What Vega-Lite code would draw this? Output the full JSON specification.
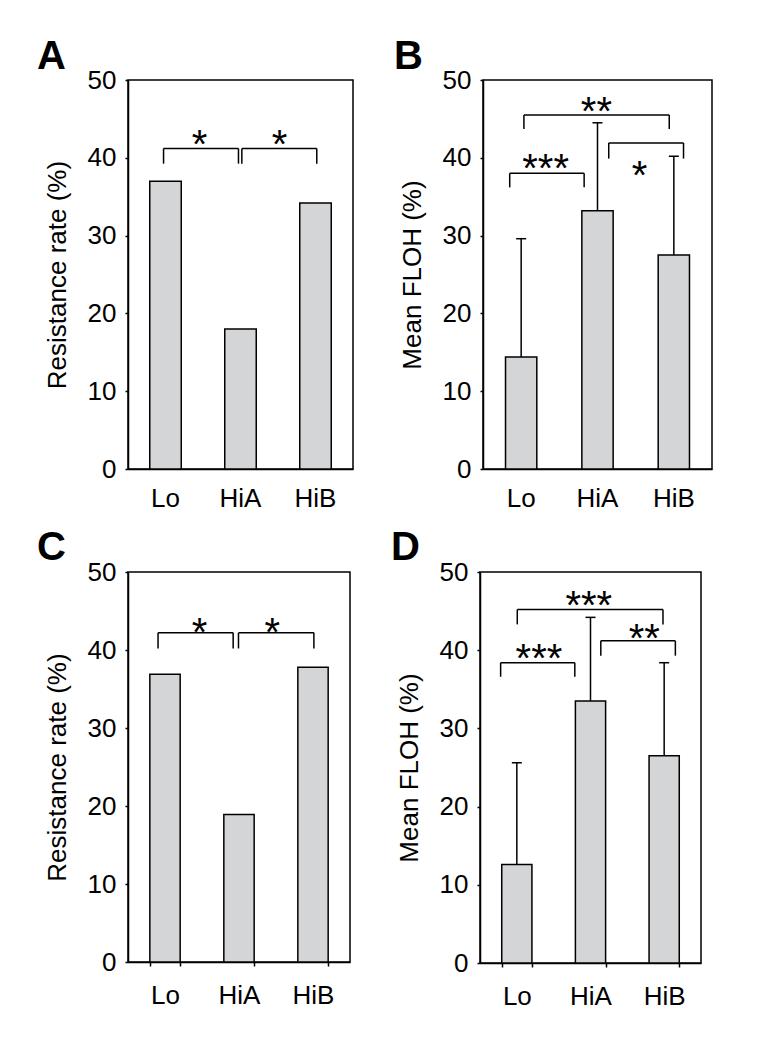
{
  "$schema": "https://vega.github.io/schema/vega-lite/v6.json",
  "padding": {"left": 36, "top": 36, "right": 10, "bottom": 10},
  "datasets": {
    "bars": [
      {"panel": "A", "group": "Lo", "value": 37.0},
      {"panel": "A", "group": "HiA", "value": 18.0},
      {"panel": "A", "group": "HiB", "value": 34.2},
      {"panel": "B", "group": "Lo", "value": 14.4, "err": 29.6},
      {"panel": "B", "group": "HiA", "value": 33.2, "err": 44.5},
      {"panel": "B", "group": "HiB", "value": 27.5, "err": 40.2},
      {"panel": "C", "group": "Lo", "value": 36.9},
      {"panel": "C", "group": "HiA", "value": 18.9},
      {"panel": "C", "group": "HiB", "value": 37.8},
      {"panel": "D", "group": "Lo", "value": 12.6, "err": 25.6},
      {"panel": "D", "group": "HiA", "value": 33.5, "err": 44.2},
      {"panel": "D", "group": "HiB", "value": 26.5, "err": 38.4}
    ],
    "brackets": [
      {"panel": "A", "xa": 0.474, "xb": 1.473, "top": 41.2, "bot": 39.25, "label": "*", "lx": 0.953, "ly": 42.9},
      {"panel": "A", "xa": 1.518, "xb": 2.517, "top": 41.2, "bot": 39.25, "label": "*", "lx": 2.019, "ly": 42.9},
      {"panel": "B", "xa": 0.35, "xb": 1.325, "top": 38.0, "bot": 36.2, "label": "***", "lx": 0.82, "ly": 39.8},
      {"panel": "B", "xa": 0.536, "xb": 2.44, "top": 45.5, "bot": 43.7, "label": "**", "lx": 1.486, "ly": 47.2},
      {"panel": "B", "xa": 1.647, "xb": 2.627, "top": 41.9, "bot": 39.9, "label": "*", "lx": 2.05, "ly": 38.9},
      {"panel": "C", "xa": 0.406, "xb": 1.421, "top": 42.2, "bot": 40.2, "label": "*", "lx": 0.965, "ly": 43.5},
      {"panel": "C", "xa": 1.493, "xb": 2.512, "top": 42.2, "bot": 40.2, "label": "*", "lx": 1.949, "ly": 43.5},
      {"panel": "D", "xa": 0.28, "xb": 1.287, "top": 38.4, "bot": 36.6, "label": "***", "lx": 0.8, "ly": 40.2},
      {"panel": "D", "xa": 0.506, "xb": 2.484, "top": 45.2, "bot": 43.3, "label": "***", "lx": 1.477, "ly": 46.9},
      {"panel": "D", "xa": 1.64, "xb": 2.652, "top": 41.2, "bot": 39.3, "label": "**", "lx": 2.23, "ly": 42.7}
    ]
  },
  "vconcat": [
    {
      "hconcat": [
        {
          "width": 225, "height": 389,
          "title": {"text": "A", "offset": -10, "dx": -7},
          "layer": [
            {
              "data": {"name": "bars"},
              "transform": [{"filter": "datum.panel === 'A'"}],
              "encoding": {"x": {"field": "group", "type": "nominal", "title": null, "sort": null, "scale": {"domain": ["Lo", "HiA", "HiB"], "paddingInner": 0.58, "paddingOuter": 0.29}, "axis": {"ticks": false}}},
              "layer": [
                {"mark": {"type": "bar", "fill": "#d4d5d7", "stroke": "black", "strokeWidth": 1.5},
                 "encoding": {"y": {"field": "value", "type": "quantitative", "title": "Resistance rate (%)", "scale": {"domain": [0, 50], "nice": false}}}}
              ]
            },
            {
              "data": {"name": "brackets"},
              "transform": [{"filter": "datum.panel === 'A'"}],
              "layer": [
                {"mark": {"type": "rule", "strokeWidth": 1.5, "color": "black"},
                 "encoding": {"x": {"field": "xa", "type": "quantitative", "scale": {"domain": [0, 3], "nice": false, "zero": false}, "axis": null}, "x2": {"field": "xb"}, "y": {"field": "top", "type": "quantitative", "title": "Resistance rate (%)", "scale": {"domain": [0, 50], "nice": false}}}},
                {"mark": {"type": "rule", "strokeWidth": 1.5, "color": "black"},
                 "encoding": {"x": {"field": "xa", "type": "quantitative", "scale": {"domain": [0, 3], "nice": false, "zero": false}, "axis": null}, "y": {"field": "top", "type": "quantitative", "title": "Resistance rate (%)", "scale": {"domain": [0, 50], "nice": false}}, "y2": {"field": "bot"}}},
                {"mark": {"type": "rule", "strokeWidth": 1.5, "color": "black"},
                 "encoding": {"x": {"field": "xb", "type": "quantitative", "scale": {"domain": [0, 3], "nice": false, "zero": false}, "axis": null}, "y": {"field": "top", "type": "quantitative", "title": "Resistance rate (%)", "scale": {"domain": [0, 50], "nice": false}}, "y2": {"field": "bot"}}},
                {"mark": {"type": "text", "fontSize": 40, "font": "Liberation Sans", "baseline": "alphabetic", "dy": 23, "color": "black"},
                 "encoding": {"x": {"field": "lx", "type": "quantitative", "scale": {"domain": [0, 3], "nice": false, "zero": false}, "axis": null}, "y": {"field": "ly", "type": "quantitative", "title": "Resistance rate (%)", "scale": {"domain": [0, 50], "nice": false}}, "text": {"field": "label"}}}
              ]
            }
          ],
          "resolve": {"scale": {"x": "independent"}, "axis": {"x": "independent"}}
        },
        {
          "width": 229, "height": 389,
          "title": {"text": "B", "offset": -10, "dx": -5},
          "layer": [
            {
              "data": {"name": "bars"},
              "transform": [{"filter": "datum.panel === 'B'"}],
              "encoding": {"x": {"field": "group", "type": "nominal", "title": null, "sort": null, "scale": {"domain": ["Lo", "HiA", "HiB"], "paddingInner": 0.59, "paddingOuter": 0.295}, "axis": {"ticks": false}}},
              "layer": [
                {"mark": {"type": "rule", "strokeWidth": 1.5, "color": "black"},
                 "encoding": {"y": {"field": "value", "type": "quantitative", "title": "Mean FLOH (%)", "scale": {"domain": [0, 50], "nice": false}}, "y2": {"field": "err"}}},
                {"mark": {"type": "tick", "size": 10, "thickness": 1.5, "color": "black", "opacity": 1},
                 "encoding": {"y": {"field": "err", "type": "quantitative", "title": "Mean FLOH (%)", "scale": {"domain": [0, 50], "nice": false}}}},
                {"mark": {"type": "bar", "fill": "#d4d5d7", "stroke": "black", "strokeWidth": 1.5},
                 "encoding": {"y": {"field": "value", "type": "quantitative", "title": "Mean FLOH (%)", "scale": {"domain": [0, 50], "nice": false}}}}
              ]
            },
            {
              "data": {"name": "brackets"},
              "transform": [{"filter": "datum.panel === 'B'"}],
              "layer": [
                {"mark": {"type": "rule", "strokeWidth": 1.5, "color": "black"},
                 "encoding": {"x": {"field": "xa", "type": "quantitative", "scale": {"domain": [0, 3], "nice": false, "zero": false}, "axis": null}, "x2": {"field": "xb"}, "y": {"field": "top", "type": "quantitative", "title": "Mean FLOH (%)", "scale": {"domain": [0, 50], "nice": false}}}},
                {"mark": {"type": "rule", "strokeWidth": 1.5, "color": "black"},
                 "encoding": {"x": {"field": "xa", "type": "quantitative", "scale": {"domain": [0, 3], "nice": false, "zero": false}, "axis": null}, "y": {"field": "top", "type": "quantitative", "title": "Mean FLOH (%)", "scale": {"domain": [0, 50], "nice": false}}, "y2": {"field": "bot"}}},
                {"mark": {"type": "rule", "strokeWidth": 1.5, "color": "black"},
                 "encoding": {"x": {"field": "xb", "type": "quantitative", "scale": {"domain": [0, 3], "nice": false, "zero": false}, "axis": null}, "y": {"field": "top", "type": "quantitative", "title": "Mean FLOH (%)", "scale": {"domain": [0, 50], "nice": false}}, "y2": {"field": "bot"}}},
                {"mark": {"type": "text", "fontSize": 40, "font": "Liberation Sans", "baseline": "alphabetic", "dy": 23, "color": "black"},
                 "encoding": {"x": {"field": "lx", "type": "quantitative", "scale": {"domain": [0, 3], "nice": false, "zero": false}, "axis": null}, "y": {"field": "ly", "type": "quantitative", "title": "Mean FLOH (%)", "scale": {"domain": [0, 50], "nice": false}}, "text": {"field": "label"}}}
              ]
            }
          ],
          "resolve": {"scale": {"x": "independent"}, "axis": {"x": "independent"}}
        }
      ]
    },
    {
      "hconcat": [
        {
          "width": 222, "height": 390,
          "title": {"text": "C", "offset": -9, "dx": -7},
          "layer": [
            {
              "data": {"name": "bars"},
              "transform": [{"filter": "datum.panel === 'C'"}],
              "encoding": {"x": {"field": "group", "type": "nominal", "title": null, "sort": null, "scale": {"domain": ["Lo", "HiA", "HiB"], "paddingInner": 0.59, "paddingOuter": 0.295}, "axis": {"ticks": true, "tickBand": "extent", "tickSize": 4}}},
              "layer": [
                {"mark": {"type": "bar", "fill": "#d4d5d7", "stroke": "black", "strokeWidth": 1.5},
                 "encoding": {"y": {"field": "value", "type": "quantitative", "title": "Resistance rate (%)", "scale": {"domain": [0, 50], "nice": false}}}}
              ]
            },
            {
              "data": {"name": "brackets"},
              "transform": [{"filter": "datum.panel === 'C'"}],
              "layer": [
                {"mark": {"type": "rule", "strokeWidth": 1.5, "color": "black"},
                 "encoding": {"x": {"field": "xa", "type": "quantitative", "scale": {"domain": [0, 3], "nice": false, "zero": false}, "axis": null}, "x2": {"field": "xb"}, "y": {"field": "top", "type": "quantitative", "title": "Resistance rate (%)", "scale": {"domain": [0, 50], "nice": false}}}},
                {"mark": {"type": "rule", "strokeWidth": 1.5, "color": "black"},
                 "encoding": {"x": {"field": "xa", "type": "quantitative", "scale": {"domain": [0, 3], "nice": false, "zero": false}, "axis": null}, "y": {"field": "top", "type": "quantitative", "title": "Resistance rate (%)", "scale": {"domain": [0, 50], "nice": false}}, "y2": {"field": "bot"}}},
                {"mark": {"type": "rule", "strokeWidth": 1.5, "color": "black"},
                 "encoding": {"x": {"field": "xb", "type": "quantitative", "scale": {"domain": [0, 3], "nice": false, "zero": false}, "axis": null}, "y": {"field": "top", "type": "quantitative", "title": "Resistance rate (%)", "scale": {"domain": [0, 50], "nice": false}}, "y2": {"field": "bot"}}},
                {"mark": {"type": "text", "fontSize": 40, "font": "Liberation Sans", "baseline": "alphabetic", "dy": 23, "color": "black"},
                 "encoding": {"x": {"field": "lx", "type": "quantitative", "scale": {"domain": [0, 3], "nice": false, "zero": false}, "axis": null}, "y": {"field": "ly", "type": "quantitative", "title": "Resistance rate (%)", "scale": {"domain": [0, 50], "nice": false}}, "text": {"field": "label"}}}
              ]
            }
          ],
          "resolve": {"scale": {"x": "independent"}, "axis": {"x": "independent"}}
        },
        {
          "width": 221, "height": 391,
          "title": {"text": "D", "offset": -9, "dx": -5},
          "layer": [
            {
              "data": {"name": "bars"},
              "transform": [{"filter": "datum.panel === 'D'"}],
              "encoding": {"x": {"field": "group", "type": "nominal", "title": null, "sort": null, "scale": {"domain": ["Lo", "HiA", "HiB"], "paddingInner": 0.59, "paddingOuter": 0.295}, "axis": {"ticks": true, "tickBand": "extent", "tickSize": 4}}},
              "layer": [
                {"mark": {"type": "rule", "strokeWidth": 1.5, "color": "black"},
                 "encoding": {"y": {"field": "value", "type": "quantitative", "title": "Mean FLOH (%)", "scale": {"domain": [0, 50], "nice": false}}, "y2": {"field": "err"}}},
                {"mark": {"type": "tick", "size": 10, "thickness": 1.5, "color": "black", "opacity": 1},
                 "encoding": {"y": {"field": "err", "type": "quantitative", "title": "Mean FLOH (%)", "scale": {"domain": [0, 50], "nice": false}}}},
                {"mark": {"type": "bar", "fill": "#d4d5d7", "stroke": "black", "strokeWidth": 1.5},
                 "encoding": {"y": {"field": "value", "type": "quantitative", "title": "Mean FLOH (%)", "scale": {"domain": [0, 50], "nice": false}}}}
              ]
            },
            {
              "data": {"name": "brackets"},
              "transform": [{"filter": "datum.panel === 'D'"}],
              "layer": [
                {"mark": {"type": "rule", "strokeWidth": 1.5, "color": "black"},
                 "encoding": {"x": {"field": "xa", "type": "quantitative", "scale": {"domain": [0, 3], "nice": false, "zero": false}, "axis": null}, "x2": {"field": "xb"}, "y": {"field": "top", "type": "quantitative", "title": "Mean FLOH (%)", "scale": {"domain": [0, 50], "nice": false}}}},
                {"mark": {"type": "rule", "strokeWidth": 1.5, "color": "black"},
                 "encoding": {"x": {"field": "xa", "type": "quantitative", "scale": {"domain": [0, 3], "nice": false, "zero": false}, "axis": null}, "y": {"field": "top", "type": "quantitative", "title": "Mean FLOH (%)", "scale": {"domain": [0, 50], "nice": false}}, "y2": {"field": "bot"}}},
                {"mark": {"type": "rule", "strokeWidth": 1.5, "color": "black"},
                 "encoding": {"x": {"field": "xb", "type": "quantitative", "scale": {"domain": [0, 3], "nice": false, "zero": false}, "axis": null}, "y": {"field": "top", "type": "quantitative", "title": "Mean FLOH (%)", "scale": {"domain": [0, 50], "nice": false}}, "y2": {"field": "bot"}}},
                {"mark": {"type": "text", "fontSize": 40, "font": "Liberation Sans", "baseline": "alphabetic", "dy": 23, "color": "black"},
                 "encoding": {"x": {"field": "lx", "type": "quantitative", "scale": {"domain": [0, 3], "nice": false, "zero": false}, "axis": null}, "y": {"field": "ly", "type": "quantitative", "title": "Mean FLOH (%)", "scale": {"domain": [0, 50], "nice": false}}, "text": {"field": "label"}}}
              ]
            }
          ],
          "resolve": {"scale": {"x": "independent"}, "axis": {"x": "independent"}}
        }
      ]
    }
  ],
  "spacing": 15,
  "config": {
    "font": "Liberation Sans",
    "concat": {"spacing": 39},
    "view": {"stroke": "black", "strokeWidth": 1.5},
    "title": {"anchor": "start", "frame": "bounds", "fontSize": 40, "fontWeight": "bold", "font": "Liberation Sans", "color": "black"},
    "axis": {
      "grid": false,
      "labelFont": "Liberation Sans", "titleFont": "Liberation Sans",
      "labelFontSize": 26, "titleFontSize": 26, "titleFontWeight": "normal",
      "labelColor": "black", "titleColor": "black",
      "domainColor": "black", "tickColor": "black",
      "domainWidth": 1.5, "tickWidth": 1.5
    },
    "axisY": {"tickCount": 5, "tickSize": 3, "labelPadding": 9, "titlePadding": 17},
    "axisX": {"labelAngle": 0, "labelPadding": 16}
  }
}
